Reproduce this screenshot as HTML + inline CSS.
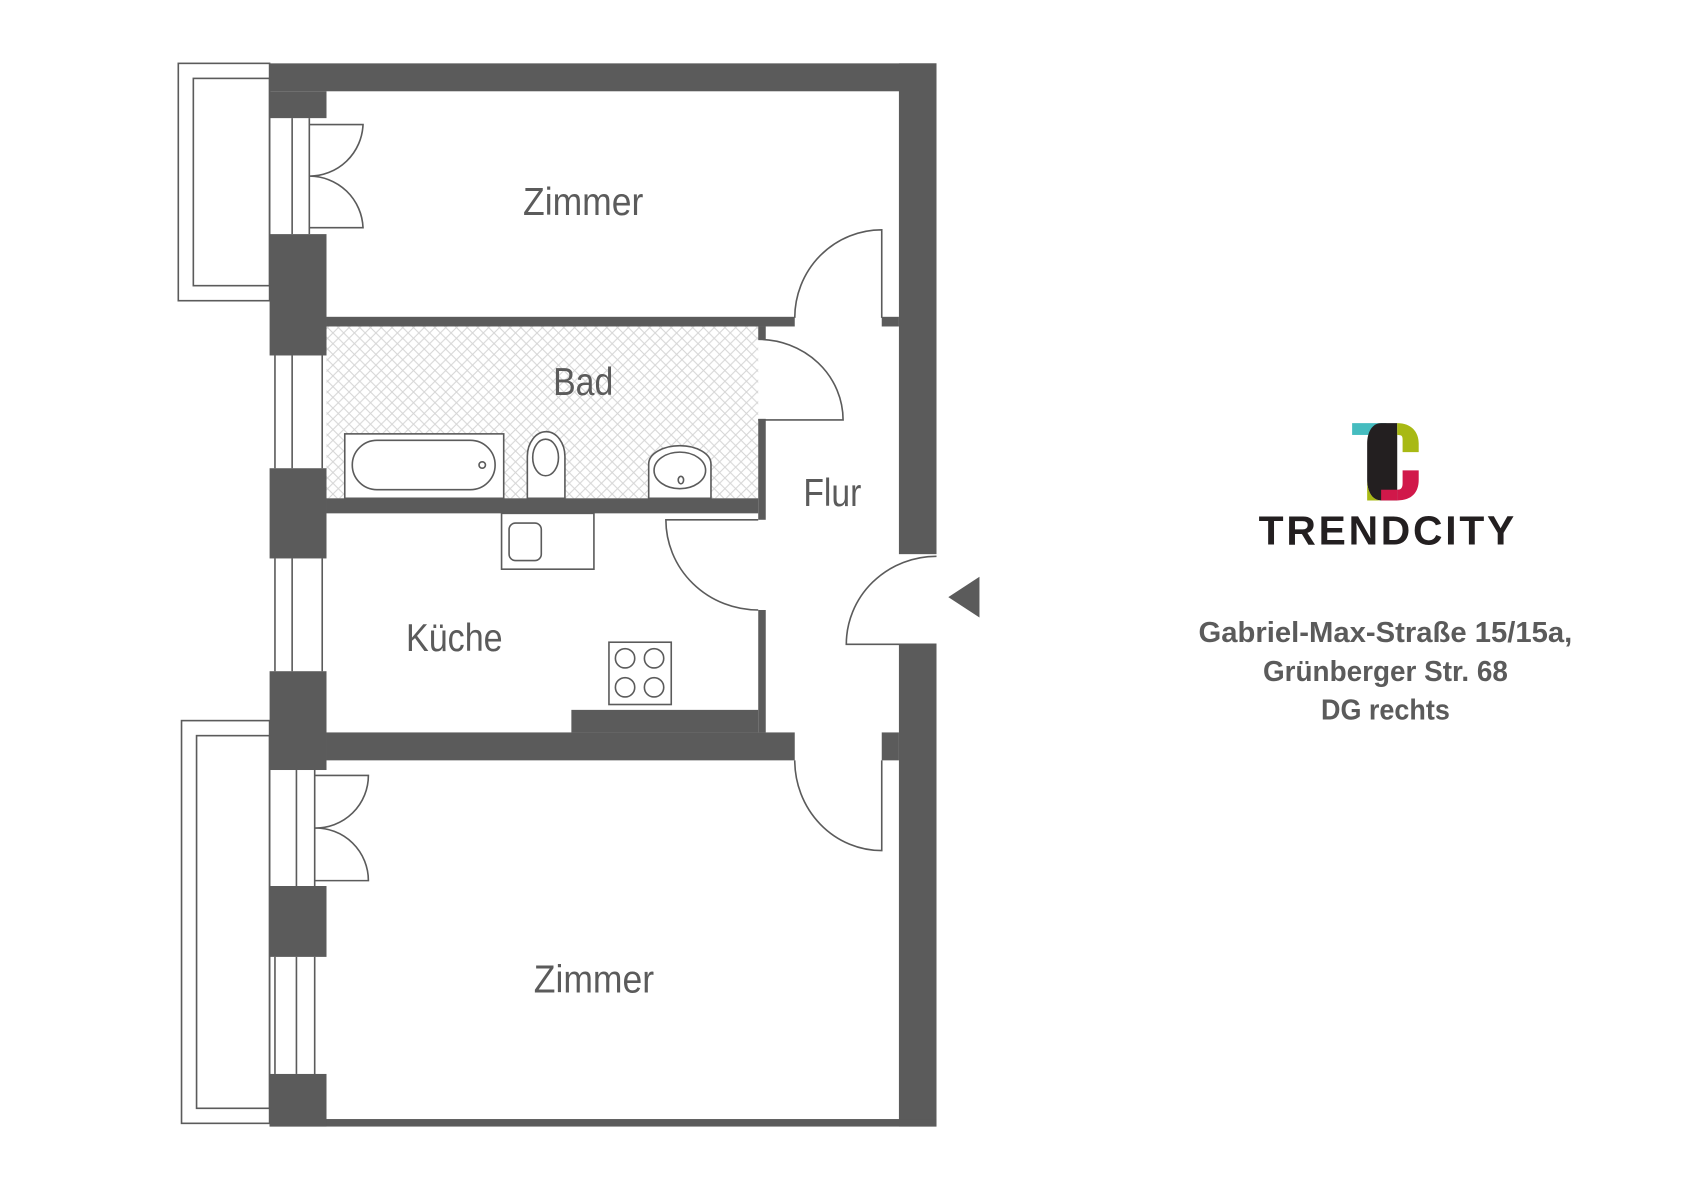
<!DOCTYPE html>
<html><head><meta charset="utf-8"><style>html,body{margin:0;padding:0;background:#fff}svg{display:block}</style></head>
<body>
<svg width="1684" height="1191" viewBox="0 0 1568 1109" xmlns="http://www.w3.org/2000/svg">
<defs>
<pattern id="h" width="10" height="10" patternUnits="userSpaceOnUse">
<path d="M0 0L10 10M10 0L0 10" stroke="#d6d6d6" stroke-width="1"/>
</pattern>
</defs>
<g fill="none" stroke="#5b5b5b" stroke-width="1.5">
<rect x="166" y="59" width="85" height="221"/>
<rect x="180" y="73" width="71" height="193"/>
<rect x="169" y="671" width="82" height="375"/>
<rect x="183" y="685" width="68" height="347"/>
<line x1="272" y1="110" x2="272" y2="218"/><line x1="288" y1="110" x2="288" y2="218"/>
<line x1="256" y1="331" x2="256" y2="436"/><line x1="272" y1="331" x2="272" y2="436"/><line x1="300" y1="331" x2="300" y2="436"/>
<line x1="256" y1="520" x2="256" y2="625"/><line x1="272" y1="520" x2="272" y2="625"/><line x1="300" y1="520" x2="300" y2="625"/>
<line x1="276" y1="717" x2="276" y2="825"/><line x1="293" y1="717" x2="293" y2="825"/>
<line x1="256" y1="891" x2="256" y2="1000"/><line x1="276" y1="891" x2="276" y2="1000"/><line x1="293" y1="891" x2="293" y2="1000"/>
<path d="M288 116 H338 A50 50 0 0 1 288 164 A50 50 0 0 1 338 212 H288"/>
<path d="M293 722 H343 A49 49 0 0 1 293 771 A49 49 0 0 1 343 820 H293"/>
<path d="M821 296 V214 A81 82 0 0 0 740 296"/>
<path d="M706 316 A79 75 0 0 1 785 391 H706"/>
<path d="M706 484 H620 A86 84 0 0 0 706 568"/>
<path d="M821 708 V792 A81 84 0 0 1 740 708"/>
<path d="M872 518 A84 82 0 0 0 788 600 H872"/>
</g>
<rect x="304" y="304" width="402" height="160" fill="url(#h)"/>
<g fill="#5b5b5b">
<rect x="251" y="59" width="621" height="26"/>
<rect x="837" y="59" width="35" height="457"/>
<rect x="837" y="600" width="35" height="449"/>
<rect x="251" y="1042" width="621" height="7"/>
<rect x="251" y="85" width="53" height="25"/>
<rect x="251" y="218" width="53" height="113"/>
<rect x="251" y="436" width="53" height="84"/>
<rect x="251" y="625" width="53" height="92"/>
<rect x="251" y="825" width="53" height="66"/>
<rect x="251" y="1000" width="53" height="49"/>
<rect x="304" y="295" width="436" height="9"/>
<rect x="821" y="295" width="16" height="9"/>
<rect x="706" y="304" width="7" height="12"/>
<rect x="706" y="390" width="7" height="94"/>
<rect x="304" y="464" width="402" height="14"/>
<rect x="706" y="568" width="7" height="114"/>
<rect x="532" y="661" width="174" height="21"/>
<rect x="304" y="682" width="436" height="26"/>
<rect x="821" y="682" width="16" height="26"/>
<polygon points="883,556 912,537 912,575"/>
</g>
<g fill="#fff" stroke="#5b5b5b" stroke-width="1.5">
<rect x="321" y="404" width="148" height="60"/>
<rect x="328" y="410" width="133" height="46" rx="23"/>
<circle cx="449" cy="433" r="3"/>
<path d="M491 464 V425 A17.5 23 0 0 1 526 425 V464 Z"/>
<ellipse cx="508" cy="426" rx="12" ry="17"/>
<path d="M604 464 V432 A29 17 0 0 1 662 432 V464 Z"/>
<ellipse cx="633" cy="438" rx="24" ry="17"/>
<ellipse cx="634" cy="447" rx="2.5" ry="3.5"/>
<rect x="467" y="478" width="86" height="52"/>
<rect x="474" y="487" width="30" height="35" rx="6"/>
<rect x="567" y="598" width="58" height="58"/>
<circle cx="582" cy="613" r="9"/><circle cx="609" cy="613" r="9"/>
<circle cx="582" cy="640" r="9"/><circle cx="609" cy="640" r="9"/>
</g>
<g font-family="'Liberation Sans Narrow','Liberation Sans',sans-serif" fill="#5b5b5b" font-size="36" text-anchor="middle">
<text x="543" y="200" textLength="112" lengthAdjust="spacingAndGlyphs">Zimmer</text>
<text x="543" y="368" textLength="56" lengthAdjust="spacingAndGlyphs">Bad</text>
<text x="775" y="471" textLength="54" lengthAdjust="spacingAndGlyphs">Flur</text>
<text x="423" y="606" textLength="90" lengthAdjust="spacingAndGlyphs">Küche</text>
<text x="553" y="924" textLength="112" lengthAdjust="spacingAndGlyphs">Zimmer</text>
</g>
<rect x="1259" y="394" width="32" height="11" fill="#45bcbf"/>
<path d="M1286 394 H1301 V466 H1286 C1276 466 1273 455 1273 447 V413 C1273 402 1278 394 1286 394Z" fill="#231f20"/>
<path d="M1273 447 V466 H1286 C1278 466 1273 458 1273 447Z" fill="#a8b914"/>
<path d="M1301 394 C1314 394 1321 402 1321 413 V421 H1306 V409 C1306 405 1304 405 1301 405Z" fill="#a8b914"/>
<path d="M1301 466 V456 C1304 456 1306 455 1306 450 V438 H1321 V447 C1321 458 1315 466 1301 466Z" fill="#d1184a"/>
<rect x="1286" y="456" width="15" height="10" fill="#d1184a"/>
<text x="1291" y="507" font-family="'Liberation Sans Narrow','Liberation Sans',sans-serif" font-weight="bold" font-size="38" fill="#231f20" text-anchor="middle" textLength="238" lengthAdjust="spacing">TRENDCITY</text>
<g font-family="'Liberation Sans Narrow','Liberation Sans',sans-serif" font-weight="bold" font-size="27" fill="#5b5b5b" text-anchor="middle">
<text x="1290" y="598" textLength="348" lengthAdjust="spacingAndGlyphs">Gabriel-Max-Straße 15/15a,</text>
<text x="1290" y="634" textLength="228" lengthAdjust="spacingAndGlyphs">Grünberger Str. 68</text>
<text x="1290" y="670" textLength="120" lengthAdjust="spacingAndGlyphs">DG rechts</text>
</g>
</svg>
</body></html>
